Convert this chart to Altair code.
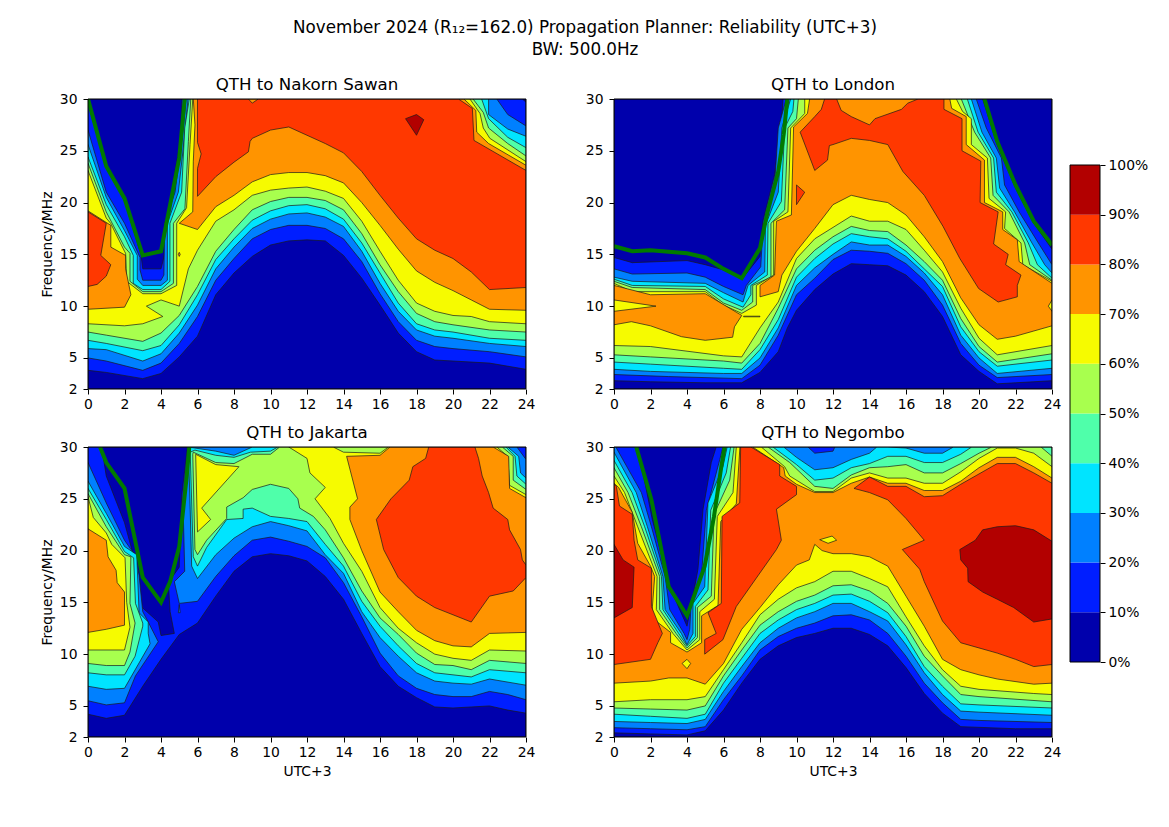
import altair as alt

FONT = "DejaVu Sans"
COLORS = ["#0000AC", "#001EFF", "#0080FF", "#00E4FF", "#4FFFAA", "#A8FF4E", "#F6FB00", "#FF9400", "#FF3800", "#B20000"]
LEVELS = [0, 10, 20, 30, 40, 50, 60, 70, 80, 90, 100]
HOURS = list(range(0, 25, 2))
FREQS = [2, 5, 10, 15, 20, 25, 30]
FULL = [(0, 2), (24, 2), (24, 30), (0, 30)]

# ---------- QTH to Nakorn Sawan: outlines of "reliability >= level" as (hour, MHz)
NS_MUF = [(0,30),(1,23.5),(2,20.4),(3,14.9),(4,15.3),(5,24.3),(5.3,30)]
NS_10 = [(0,3.8),(1,3.6),(3,3),(4,3.5),(5,5.1),(6,7.1),(7,11.1),(8,13.2),(9,14.8),(10,15.9),(11,16.3),(12,16.4),(13,16.3),(14,14.9),(15,12.7),(16,10.1),(17,7.4),(18,5.6),(19,4.8),(22,4.5),(24,3.9),(24,29.7),(23.8,30),(5.15,30),(5.05,25.8),(4.7,22.3),(4.3,17.5),(4.2,15),(4,13.6),(3,13.6),(2.9,15),(2,20.2),(1,23.4),(0,29.8)]
NS_20 = [(0,5),(1,4.7),(3,3.8),(4,4.5),(5,6.4),(6,9),(7,12.5),(8,14.6),(9,16.5),(10,17.4),(11,17.8),(12,17.8),(13,17.5),(14,16.5),(15,14.3),(16,11.2),(17,8.5),(18,6.7),(19,6.1),(20,5.9),(22,5.6),(24,5.1),(24,27.4),(23,28.5),(22.4,30),(5.37,30),(5.22,27.2),(4.77,21),(4.2,18),(4.16,13),(4,12.5),(3,12.5),(2.85,13.5),(2.85,14.7),(2,18),(1,21),(0,27)]
NS_30 = [(0,5.9),(1,5.8),(3,4.7),(4,5.4),(5,7.4),(6,10.1),(7,13.6),(8,15.7),(9,17.5),(10,18.4),(11,18.9),(12,19),(13,18.6),(14,17.7),(15,15.3),(16,12.2),(17,9.5),(18,7.7),(19,7.1),(20,6.9),(22,6.4),(24,6.1),(24,26.4),(23,27.1),(21.95,28.5),(21.95,30),(5.48,30),(5.3,26.5),(4.95,21),(4.35,18),(4.35,12.5),(4,12),(3,12),(2.7,12.6),(2.7,14.9),(2,17.3),(1,20.5),(0,25.6)]
NS_40 = [(0,6.7),(1,6.4),(3,5.7),(4,6.2),(5,8.2),(6,11.1),(7,14.5),(8,16.5),(9,18.3),(10,19.2),(11,19.7),(12,19.8),(13,19.4),(14,18.4),(15,16.1),(16,13.2),(17,10.3),(18,8.3),(19,7.7),(20,7.5),(22,6.9),(24,6.7),(24,25.3),(23,26.3),(21.95,28.1),(21.57,30),(5.55,30),(5.3,27.2),(5.13,21),(4.49,18),(4.49,12.4),(4,11.6),(3,11.6),(2.48,12.2),(2.48,14.9),(2,16.7),(1,19.8),(0,24.4)]
NS_50 = [(0,7.5),(1,7.2),(3,6.6),(4,7.4),(5,9.1),(6,11.9),(7,15.3),(8,17.4),(9,19.3),(10,20.1),(11,20.5),(12,20.5),(13,20.2),(14,19.3),(15,17),(16,14),(17,11.4),(18,9.3),(19,8.5),(20,8.2),(22,7.7),(24,7.5),(24,24.5),(23,25.7),(21.95,27.2),(21.66,28.7),(21.1,30),(5.63,30),(5.5,25.9),(5.31,19.4),(4.68,18),(4.68,12.2),(4,11.4),(3,11.4),(2.3,12.4),(2.3,15.1),(2,15.7),(1,19.1),(0,23.8)]
NS_60 = [(0,8.3),(2,8.1),(3,8.3),(4.1,9),(3.2,10),(4,10.6),(5,10),(5.5,13.6),(6,15.4),(7,18.2),(8,19.3),(9,20.7),(10,21.2),(11,21.4),(12,21.5),(13,21.1),(14,20.4),(15,18.2),(16,15.3),(17,12.5),(18,10.3),(19,9.5),(20,9.1),(21,9),(22,8.5),(24,8.3),(24,23.95),(22.02,26.2),(21.66,27.2),(21.48,28.6),(20.93,30),(5.74,30),(5.59,25.6),(5.4,19.5),(4.86,18),(4.86,12),(4,11.2),(3,11.2),(2.12,12.4),(2.06,15.1),(2,15.3),(1.24,18),(1,18.5),(0,23.1)]
NS_70A = [(5,18),(6,17.4),(7,19.6),(8,20.7),(9,22),(10,22.7),(11,22.9),(12,22.9),(13,22.6),(14,21.9),(15,20),(16,17.8),(17,15.5),(18,13.4),(19,12.3),(20,11.5),(21,10.6),(22,9.7),(24,9.6),(24,23.6),(21.95,25.7),(21.3,26.8),(21.25,28.9),(20.6,30),(5.77,30),(5.86,27.5),(5.77,24),(5.74,19.1)]
NS_70B = [(0,9.7),(2,9.9),(2.35,11.1),(2.06,13.6),(2.06,14.9),(1.25,15.7),(1.25,17.8),(0,19.2)]
NS_70C = [(4.95,15),(5,15.2),(5.05,15),(5,14.8)]
NS_80A = [(6,30),(6,25.8),(6.2,24.7),(6,23.3),(6,20.6),(7,22.5),(8,23.9),(8.79,24.9),(8.88,25.9),(9,26.2),(10,27),(11,27.3),(12,26.5),(13,25.7),(14,24.8),(15,23),(16,20.7),(17,18.5),(18,16.5),(19,15.4),(20,14.6),(21,13.3),(22,11.6),(24,11.8),(24,23.1),(21.15,26),(21.06,29.1),(20.3,30),(9.33,30),(9,29.6),(8.79,30)]
NS_80B = [(0,19.1),(1,18),(0.7,14.9),(1.25,14),(1,12.9),(0.5,12.1),(0,11.9)]
NS_90 = [(17.4,28.1),(18,28.5),(18.4,28),(18,26.5)]

# ---------- QTH to London
LO_MUF = [(0,15.8),(1,15.3),(2,15.4),(4,15.1),(5,14.7),(6,13.6),(7,12.7),(8,15.6),(8.4,19),(9,23),(9.3,26.6),(9.5,30)]
LO_MUF2 = [(20.3,30),(21,25.9),(22,21.7),(23,18.2),(24,15.9)]
LO_10 = [(0,2.8),(2,2.7),(5,2.6),(7,2.6),(8,3.6),(9,5.6),(9.5,7.9),(10,9.6),(11,11.6),(12,13.1),(13,14.1),(14,14),(15,13.9),(16,13),(17,11.4),(18,9),(19,5.3),(20,3.7),(21,2.5),(22,2.6),(23,2.7),(24,2.8),(24,15.5),(23,18),(22,21.4),(21,25.6),(20.2,30),(9.26,30),(9.17,27.2),(8.8,22.7),(8.16,18.2),(8,14.8),(7,12.6),(6,13.5),(5,14),(4,14.4),(1,14.2),(0,14.7)]
LO_20 = [(0,3.4),(3,3.2),(7,3),(8,4.3),(9,7.2),(10,11.1),(11,12.7),(12,14.5),(13,15.4),(14,15.3),(15,15.1),(16,14.1),(17,12.5),(18,10.1),(19,6.4),(20,4.3),(21,3.1),(24,3.4),(24,14),(23.25,16.1),(22.2,19.1),(21.4,21.7),(21.23,24.3),(20.4,27.2),(19.85,30),(9.44,30),(9,27.2),(8.8,21.7),(8.16,17.5),(8.04,13.8),(7.25,12),(7.07,11.1),(6,11.9),(5,12.8),(4,13.2),(1,13.1),(0,13.6)]
LO_30 = [(0,3.9),(2,3.7),(6,3.5),(7,3.5),(8,5),(9,7.9),(10,12),(11,13.7),(12,15),(13,16.2),(14,15.9),(15,15.9),(16,14.8),(17,13.2),(18,11.1),(19,7.2),(20,5),(21,3.5),(24,4),(24,13.2),(23.6,14),(22.9,16.1),(21.95,19.1),(21.13,21.4),(20.95,24.3),(20.16,26.8),(19.58,30),(9.68,30),(9.2,27.2),(9,21),(8.3,17.8),(8.26,13.3),(7.34,12),(7.07,10.4),(6,11.3),(5,12.2),(1,12.4),(0,12.8)]
LO_40 = [(0,4.6),(2,4.4),(6,4),(7,3.9),(8,5.8),(9,8.7),(10,12.8),(11,14.6),(12,16),(13,17),(14,16.7),(15,16.5),(16,15.3),(17,13.6),(18,11.9),(19,8),(20,5.6),(21,4.2),(24,4.8),(24,12.7),(23.2,14),(22.7,16.1),(21.8,19.1),(20.95,21),(20.8,24.3),(19.95,26.8),(19.36,30),(9.86,30),(9.8,28.8),(9.35,27.2),(9.17,20.1),(8.44,18),(8.4,13),(7.5,12),(7.5,11.1),(7.07,9.9),(6,10.7),(5,11.9),(1,12),(0,12.6)]
LO_50 = [(0,5.3),(2,5.1),(6,4.7),(7,4.5),(8,6.4),(9,9.8),(10,13.6),(11,15.4),(12,16.7),(13,17.7),(14,17.3),(15,17.2),(16,15.9),(17,14.3),(18,12.5),(19,8.8),(20,6.1),(21,4.6),(24,5.4),(24,12.5),(22.78,14),(22.5,16.1),(21.65,19.1),(20.77,20.7),(20.64,24.3),(19.76,26.8),(19.03,30),(10.1,30),(10,28.1),(9.53,27.2),(9.35,19.3),(8.6,18),(8.6,12.8),(7.6,12),(7.6,10.4),(7,9.6),(6,10.3),(5,11.6),(1,11.8),(0,12.4)]
LO_60 = [(0,6.2),(2,6.1),(6,5.2),(7,5.1),(8,7.9),(9,10.4),(10,14.6),(11,16.5),(12,17.6),(13,18.7),(14,18.2),(15,18.2),(16,17.4),(17,15.4),(18,13.3),(19,9.8),(20,6.9),(21,5.3),(24,6.2),(24,12.4),(22.4,14),(22.3,16.1),(21.4,17.5),(21.46,19.1),(20.55,20.4),(20.46,24.3),(19.58,25.6),(19.58,28.1),(19.1,28.8),(18.76,30),(10.45,30),(10.45,28.6),(9.68,27.2),(9.53,19.1),(8.75,18.2),(8.75,13),(7.8,12),(7.8,10.1),(7,9.3),(6,10.1),(5,11.4),(1,11.4),(0,12.2)]
LO_70A = [(0,8.2),(0.95,8.5),(2,8.1),(3.7,7.05),(5,6.7),(6.5,7),(6.6,8),(7,9.1),(5,11.2),(2,11.1),(0,12)]
LO_70B = [(8,10.9),(9,11.4),(9.2,13),(10,15.3),(11,17.5),(12,19.8),(13,20.7),(14,20.3),(15,20),(16,18.8),(17,16.7),(18,14.3),(19,10.8),(20,8.2),(21,6.8),(22,7.1),(23,7.6),(24,8.1),(24,12.2),(22.2,14.3),(22.1,16.4),(21.3,17.4),(21.3,19.1),(20.3,20),(20.3,24.1),(19.3,25.6),(19.3,28.3),(18.5,29.1),(18.4,30),(10.72,30),(10.6,28.6),(9.84,27.3),(9.72,18.8),(8.9,18.2),(8.8,13),(8,12)]
LO_60A = [(0,10.6),(2.3,10),(0,9.5)]
LO_60B = [(24,10.6),(23.8,10),(24,9.5)]
LO_60C = [(7.1,9.03),(8,9.03),(8,8.97),(7.1,8.97)]
LO_80A = [(11.54,30),(11.36,29),(11,28.3),(10.2,26.8),(11,23.1),(11.7,24.1),(11.8,25.5),(12,25.6),(13,26.2),(14,26),(15,25.6),(15.83,23),(17,20.7),(18.03,17.7),(18.95,14.6),(19.98,11.7),(21.05,10.4),(22.1,10.9),(22.1,12),(22.3,13),(21.46,14),(21.6,15),(20.8,16),(21.05,19.1),(20.06,20),(20.1,24),(19.07,25),(19.07,28.1),(18.08,29),(18.08,30),(16.66,30),(16.1,29.6),(15.75,29),(14.3,28.1),(14,27.5),(13,28.3),(12.45,28.9),(12.2,30)]
LO_80B = [(10,21.7),(10.45,21),(10,19.8)]

# ---------- QTH to Jakarta
JA_MUF = [(0.66,30),(1,28.5),(2,26),(3,17.4),(4,15),(4.5,17),(5,20.4),(5.4,27),(5.55,30)]
JA_10 = [(0,4.2),(1,3.8),(2,4.1),(3,6.9),(4,9.5),(5,11.9),(6,13),(7,15.6),(8,18),(9,19.4),(10,19.7),(11,19.5),(12,19),(13,17.5),(14,15.3),(15,12),(16,8.8),(17,6.9),(18,5.8),(19,4.9),(20,4.8),(21,4.9),(22,5),(23,4.6),(24,4.3),(24,30),(5.45,30),(5.13,25.2),(5,18.4),(4.4,16.9),(4.5,14.1),(4.73,12),(4,11.8),(3.85,13.1),(2.85,14.7),(2.8,17.5),(2,22.7),(1,27.2),(0.75,30),(0,30)]
JA_20A = [(0,5.5),(1,5.1),(2,5.3),(2.6,7.9),(3.85,11.2),(3.3,13.1),(3,14.1),(2.8,17.6),(2.6,19.5),(2,21),(1,24.6),(0,28.5)]
JA_20B = [(4.73,17),(5,14.9),(6,15.1),(7,17.5),(8,19.5),(9,21),(10,21.3),(11,20.9),(12,20.4),(13,19.3),(14,16.9),(15,13.6),(16,10.1),(17,7.9),(18,6.7),(19,6.1),(20,5.9),(21,5.9),(22,6.4),(23,6.1),(24,5.6),(24,28.8),(23.5,30),(5.5,30),(5.2,25),(5.3,18)]
JA_20C = [(4.95,14),(5,14.8),(5.05,14)]
JA_30A = [(0,6.9),(1,6.6),(2,6.7),(3.4,11),(3.3,12),(3.3,13.1),(2.8,14),(2.67,19.6),(2,20.4),(1,23.6),(0,26.7)]
JA_30B = [(5.68,18.5),(6,17.3),(7,19.6),(8,21.2),(9,22.3),(10,22.8),(11,22.4),(12,21.9),(13,19.6),(14,17.8),(15,14.1),(16,11.6),(17,9.8),(18,8.2),(19,7.4),(20,7.2),(21,7.1),(22,7.6),(24,7),(24,27),(23.7,27.5),(23.6,29.1),(23,30),(9,30),(8,29.2),(7,29.6),(5.86,29.9),(5.5,30),(5.6,24)]
JA_40A = [(0,8.2),(1,8),(2,8),(2.58,9.8),(3,12.7),(3,13),(2.6,14.9),(2.5,19.3),(2,19.9),(1,23),(0,26)]
JA_40B = [(5.77,19.4),(6,18.5),(6.5,20.3),(7.6,23),(8.5,23.1),(8.5,24),(9,24.1),(10,23.3),(11,23.1),(12,22.8),(13,20.6),(14,18.5),(15,15.1),(16,12.7),(17,10.8),(18,9.1),(19,8.2),(20,8),(21,7.8),(22,8.5),(24,8.2),(24,26.4),(23.5,27.2),(23.4,29.1),(22.9,30),(10.4,30),(10,29.6),(8.9,29.5),(8,29),(7,29.2),(5.86,29.7),(5.6,29.5)]
JA_50A = [(0,9.1),(1,8.9),(2,8.9),(2.3,10.2),(2.58,13),(2.3,14.9),(2.35,19.4),(2,19.6),(1,22.3),(0,25.5)]
JA_50B = [(5.86,20.1),(6,19.6),(6.5,21),(7.6,23.1),(7.6,24.2),(8.5,25.1),(9,25.9),(10,26.4),(11,26),(11.5,25),(11.6,24.1),(12.35,23.3),(13,22),(14,19.3),(15,16.1),(16,13.5),(17,11.9),(18,10.1),(19,9),(20,8.9),(21,8.5),(22,9.4),(24,9.1),(24,25.9),(23.3,26.8),(23.3,29.1),(22.7,30),(10.5,30),(10,29.3),(9,29.3),(8,28.4),(7,28.5),(5.77,29.5),(5.74,29.3)]
JA_60A = [(0,10.4),(2,10.4),(2.3,12.6),(2.12,15),(2.03,19.3),(1.3,20.6),(1,21.7),(0.29,23.2),(0,25.2)]
JA_60B = [(11,30),(12,28.9),(12.16,27.5),(13,26.1),(12.44,25),(13.26,23.1),(14,20.7),(15,18),(16,14.5),(17,12.5),(18,11.1),(19,10),(20,9.6),(21,9.4),(22,10.4),(24,10.3),(24,25.4),(23.1,26.3),(23,29.1),(22.4,30),(16.46,30),(16,29.4),(14,29.5),(13.44,30)]
JA_60C = [(5.9,29.3),(7,28.3),(8.27,28.1),(6.23,24.1),(6.72,23),(6,21.8)]
JA_70A = [(0,12.1),(1,12.4),(2,12.8),(2,16),(1.6,16.9),(1.54,18.1),(1.1,19.4),(1,21),(0,22.1)]
JA_70B = [(14.17,29.1),(14.77,25),(14.35,24.2),(14.35,23),(15,20),(16,16),(17,14.1),(18,12.3),(19,11.3),(20,10.8),(21,10.7),(22,12),(24,12.1),(24,25.1),(23.1,26),(23.05,29.1),(22.2,30),(16.55,30),(16,29.2)]
JA_80 = [(18.67,30),(18.5,28.9),(17.8,28.1),(17.6,26.8),(16.6,25),(15.8,23),(16.2,20.1),(17,17.4),(18,15.6),(19,14.5),(21,13.1),(22,15.6),(23.3,16.1),(24,17.4),(24,18.6),(23.8,19.1),(23.7,20.1),(23.1,22),(23,23),(22.2,24.1),(21.95,25.6),(21.6,27.2),(21.4,28.9),(21.2,30)]

# ---------- QTH to Negombo
NE_MUF = [(1.22,30),(2.05,24.9),(3,16.5),(4,13.7),(4.97,18.5),(5.48,23.3),(5.88,28.1),(6.06,30)]
NE_10 = [(0,2.4),(2,2.3),(4,2.2),(5,2.6),(6,4.6),(7,7.2),(8,9.5),(9,10.8),(10,11.6),(11,12),(12,12.5),(13,12.5),(14,11.9),(15,10.8),(16,8.7),(17,6.2),(18,4.3),(19,3),(22,2.8),(24,2.8),(24,30),(5.6,30),(5.33,28.5),(4.88,24),(4.6,18.2),(4.33,15.6),(4,12.7),(3.05,16.5),(2.1,23),(1.3,30),(0,30)]
NE_20 = [(0,2.9),(2,2.8),(4,2.7),(5,3),(6,5.6),(7,7.9),(8,10.4),(9,11.7),(10,12.5),(11,13),(12,13.7),(13,13.8),(14,13.3),(15,12),(16,9.8),(17,7.2),(18,5.3),(19,3.7),(20,3.6),(24,3.4),(24,30),(12.1,30),(12,29.6),(11,29.4),(10.63,30),(5.97,30),(5.8,28.8),(5.06,23.9),(4.79,17.5),(4.24,15.3),(4.15,12.4),(4,11.4),(3.84,12),(3.05,14.3),(2.8,17.5),(2.05,22.3),(1.5,25.6),(0.1,30),(0,30)]
NE_30 = [(0,3.5),(2,3.4),(4,3.3),(5,3.7),(6,6.4),(7,8.8),(8,11.1),(9,12.5),(10,13.5),(11,14.1),(12,14.9),(13,14.9),(14,14.1),(15,13.2),(16,10.9),(17,8.2),(18,6.1),(19,4.5),(20,4.4),(24,4.1),(24,30),(18.6,30),(18,29.4),(17,29.4),(16,29.9),(15,30),(14.4,30),(14,29.4),(13,28.8),(12,28),(11,27.8),(10,29),(9.3,30),(6.2,30),(5.97,28.1),(5.15,24.6),(4.97,16.5),(4.33,14.9),(4.33,12),(4,10.9),(3.69,12),(2.8,14.3),(2.68,17.5),(1.83,22.3),(1.22,25.6),(0,29.5)]
NE_40 = [(0,4.2),(2,4),(4,3.8),(5,4.2),(6,7.2),(7,9.6),(8,12),(9,13.3),(10,14.3),(11,14.9),(12,15.7),(13,15.8),(14,15.1),(15,14),(16,11.7),(17,8.8),(18,6.9),(19,5.2),(20,5.1),(24,4.8),(24,30),(19.6,30),(19,29.3),(18,28.5),(17,28.5),(16,29.1),(15,29.1),(14,28.4),(13,28),(12,27),(11,26.8),(10,28.3),(8.71,30),(6.39,30),(6.15,27.5),(5.3,23.9),(5.15,16.2),(4.46,14.6),(4.46,11.7),(4,10.8),(3.54,12),(2.68,14.3),(2.6,17.5),(1.68,22.3),(0.99,25.6),(0,28.7)]
NE_50 = [(0,4.8),(2,4.7),(4,4.6),(5,5),(6,7.9),(7,10.4),(8,12.8),(9,14.1),(10,15.1),(11,15.7),(12,16.6),(13,16.7),(14,16.1),(15,14.9),(16,12.7),(17,9.8),(18,7.9),(19,6.1),(20,5.9),(24,5.4),(24,29.1),(23.4,30),(20.7,30),(20,29.4),(19,28.4),(18,27.5),(17,27.5),(16,28.3),(15,28.1),(14,28),(13,27.3),(12,26),(11,26.2),(9.63,28.5),(8.44,30),(6.58,30),(6.34,26.8),(5.48,23.5),(5.33,15.6),(4.57,14.5),(4.57,11.6),(4,10.6),(3.4,12),(2.5,14.3),(2.5,17.5),(1.5,22.3),(0.77,25.6),(0,28)]
NE_60 = [(0,5.4),(2,5.6),(4,5.6),(5,5.9),(6,8.5),(7,11.1),(8,13.8),(9,15.3),(10,16.4),(11,17),(12,18),(13,18),(14,17.3),(15,16.5),(16,13.6),(17,10.8),(18,8.5),(19,6.9),(20,6.6),(23,6.2),(24,6.1),(24,28.1),(23,29.4),(22,29.9),(21,29.9),(20,28.9),(19,27.6),(18,26.5),(17,26.5),(16,27),(15,27),(14,27.5),(13,27),(12,25.7),(11,25.7),(9.63,27.2),(9.35,28.1),(8.07,30),(6.7,30),(6.52,25.6),(5.66,23.3),(5.5,15.3),(4.7,14.1),(4.7,11.4),(4,10.4),(3.23,12),(2.32,14.3),(2.36,17.5),(1.3,22.3),(0.58,25.6),(0,27.2)]
NE_70 = [(0,7.2),(2,7.4),(3,7.7),(4,7.7),(5,7.1),(6,9.1),(7,12.4),(8,14.5),(9,16.7),(10,18.6),(10.7,19.1),(11,20.6),(11.4,20),(12,19.7),(13,19.7),(14,19.4),(15,18.5),(16,15.6),(17,12.7),(18,9.5),(19,8.5),(20,8),(21,7.6),(23,7.1),(24,7.2),(24,27),(23,28.1),(22,29),(21,29),(20,28),(19,26.7),(18,25.8),(17,25.8),(16,26.5),(15,26.5),(14,27.1),(13,26.5),(12,25.6),(11,25.6),(10,26.4),(9.38,27.2),(9.3,28),(7.6,30),(6.9,30),(6.7,24.5),(5.85,22.8),(5.7,14.7),(4.8,13.7),(4.8,11.1),(4,10.2),(3.1,11.1),(3.1,12.1),(2.3,13.2),(2.08,14),(2.23,17.5),(2,18.5),(1.3,20.7),(1,23.7),(0.25,26.1),(0,26.5)]
NE_60A = [(4,9.5),(4.2,9.1),(4,8.6),(3.73,9.1)]
NE_60B = [(11.27,21.05),(11.95,21.4),(12.2,21),(11.73,20.7)]
NE_80A = [(2,9.5),(2.4,11.1),(2.65,12),(2.05,14.6),(2.05,18.3),(1.3,19.1),(1.1,21),(1,23.5),(0.3,24.3),(0.13,26.2),(0,26.4),(0,9)]
NE_80B = [(4.97,10),(5.97,11.4),(6.7,14.6),(8.9,20.1),(9.17,21),(8.9,24),(10,25.4),(10,26.2),(9.08,27.2),(9.08,28.3),(7.5,30),(6.94,30),(6.89,24.6),(5.92,23.3),(5.88,14.9),(5.15,14),(5.6,12),(4.97,11.4)]
NE_80C = [(13.15,26),(14,27.1),(15,26.2),(16,26.2),(17,25.2),(18,25.3),(19,26.4),(20,27.4),(21,28.4),(22,28.4),(23,27.5),(24,26.5),(24,9),(23,8.8),(22,9.5),(21,10.1),(20,10.6),(19,11.1),(18,13.2),(17,17),(16.75,18.2),(15.8,20.1),(17,21),(16,23.1),(15,24.9),(14,25.6)]
NE_90A = [(0,20.6),(0.5,19.1),(1.1,18.4),(1,14.5),(0,13.5)]
NE_90B = [(18.95,20.1),(19,19.1),(19.38,18.3),(19.4,17),(20.2,16),(21,15.3),(21.9,14.5),(23,13.1),(24,13.4),(24,20.9),(23,22),(22,22.4),(21,22.3),(20.2,22),(19.8,21)]

# Drawing order of each panel: (colour band index, outline)
NS_DRAW = [(0,FULL),(1,NS_10),(2,NS_20),(3,NS_30),(4,NS_40),(5,NS_50),(6,NS_60),(7,NS_70A),(7,NS_70B),(7,NS_70C),(8,NS_80A),(8,NS_80B),(9,NS_90)]
LO_DRAW = [(0,FULL),(1,LO_10),(2,LO_20),(3,LO_30),(4,LO_40),(5,LO_50),(6,LO_60),(7,LO_70A),(7,LO_70B),(6,LO_60A),(6,LO_60B),(6,LO_60C),(8,LO_80A),(8,LO_80B)]
JA_DRAW = [(0,FULL),(1,JA_10),(2,JA_20A),(2,JA_20B),(2,JA_20C),(3,JA_30A),(3,JA_30B),(4,JA_40A),(4,JA_40B),(5,JA_50A),(5,JA_50B),(6,JA_60A),(6,JA_60B),(6,JA_60C),(7,JA_70A),(7,JA_70B),(8,JA_80)]
NE_DRAW = [(0,FULL),(1,NE_10),(2,NE_20),(3,NE_30),(4,NE_40),(5,NE_50),(6,NE_60),(7,NE_70),(6,NE_60A),(6,NE_60B),(8,NE_80A),(8,NE_80B),(8,NE_80C),(9,NE_90A),(9,NE_90B)]

PW, PH = 438, 290
TS = 13.9
XS = alt.Scale(domain=[0, 24], nice=False, zero=False)
YS = alt.Scale(domain=[2, 30], nice=False, zero=False)


def rows(pts):
    return alt.Data(values=[{"h": p[0], "f": p[1], "i": i} for i, p in enumerate(pts)])


def axis(orient, values, title, lpad, tpad):
    return alt.Axis(orient=orient, values=values, title=title, format="d", grid=False, domain=False,
                    tickColor="black", tickSize=5, labelColor="black", titleColor="black", labelFont=FONT,
                    titleFont=FONT, labelFontSize=TS, titleFontSize=TS, titleFontWeight="normal",
                    labelFlush=False, labelOverlap=False, titlePadding=tpad, labelPadding=lpad)


def panel(title, draw, mufs, xtitle, ytitle, extra=()):
    layers = []
    for band, pts in draw:
        layers.append(
            alt.Chart(rows(pts))
            .mark_line(interpolate="linear-closed", fill=COLORS[band], stroke="#1a1a1a",
                       strokeWidth=0.7, clip=True)
            .encode(x=alt.X("h:Q", scale=XS, axis=None), y=alt.Y("f:Q", scale=YS, axis=None),
                    order="i:Q")
        )
    for muf in mufs:
        layers.append(
            alt.Chart(rows(muf))
            .mark_line(color="#007a00", strokeWidth=4, clip=True, strokeJoin="miter")
            .encode(x=alt.X("h:Q", scale=XS, axis=None), y=alt.Y("f:Q", scale=YS, axis=None),
                    order="i:Q")
        )
    frame = (
        alt.Chart(alt.Data(values=[{"a": 0, "b": 24, "c": 2, "d": 30}]))
        .mark_rect(fillOpacity=0, stroke="black", strokeWidth=1)
        .encode(
            x=alt.X("a:Q", scale=XS, axis=axis("bottom", HOURS, xtitle, 3, 6)),
            x2="b:Q",
            y=alt.Y("c:Q", scale=YS, axis=axis("left", FREQS, ytitle, 6, 5)),
            y2="d:Q",
        )
    )
    layers.append(frame)
    layers.extend(extra)
    return alt.layer(*layers).resolve_scale(y="independent").resolve_axis(x="independent", y="independent").properties(
        width=PW, height=PH,
        title=alt.TitleParams(title, font=FONT, fontSize=16.67, fontWeight="normal", color="black", offset=-2),
    )


# Colour bar, drawn beside the top-right panel and running down past it
bar_rows = [{"lo": LEVELS[i], "hi": LEVELS[i + 1], "c": COLORS[i]} for i in range(10)]
CS = alt.Scale(domain=[0, 100], range=[563, 66], nice=False, zero=False)
bar = alt.Chart(alt.Data(values=bar_rows)).mark_rect(clip=False).encode(
    x=alt.value(456), x2=alt.value(486),
    y=alt.Y("lo:Q", scale=CS, axis=alt.Axis(orient="right", offset=48, values=LEVELS, labelExpr="datum.value + '%'",
            title=None, grid=False, domain=False, tickColor="black", tickSize=5, labelColor="black", labelFont=FONT,
            labelFontSize=TS, labelFlush=False, labelOverlap=False, labelPadding=3)),
    y2="hi:Q",
    fill=alt.Fill("c:N", scale=None),
)
bar_frame = alt.Chart(alt.Data(values=[{"lo": 0, "hi": 100}])).mark_rect(fillOpacity=0, stroke="black", strokeWidth=1).encode(
    x=alt.value(456), x2=alt.value(486),
    y=alt.Y("lo:Q", scale=CS, axis=None), y2="hi:Q",
)

a = panel("QTH to Nakorn Sawan", NS_DRAW, [NS_MUF], None, "Frequency/MHz")
b = panel("QTH to London", LO_DRAW, [LO_MUF, LO_MUF2], None, None, extra=(bar, bar_frame))
c = panel("QTH to Jakarta", JA_DRAW, [JA_MUF], "UTC+3", "Frequency/MHz")
d = panel("QTH to Negombo", NE_DRAW, [NE_MUF], "UTC+3", None)

chart = alt.concat(a, b, c, d, columns=2, spacing=alt.RowColnumber(row=58, column=88), bounds="flush").properties(
    title=alt.TitleParams(
        ["November 2024 (R\u2081\u2082=162.0) Propagation Planner: Reliability (UTC+3)", "BW: 500.0Hz"],
        font=FONT, fontSize=16.75, fontWeight="normal", color="black", lineHeight=22, anchor="middle", dx=-9, offset=19,
    ),
    padding={"left": 32, "top": 11, "right": 10, "bottom": 10},
).configure_view(stroke=None)

chart.save("out.html", embed_options={"renderer": "svg", "actions": False})
